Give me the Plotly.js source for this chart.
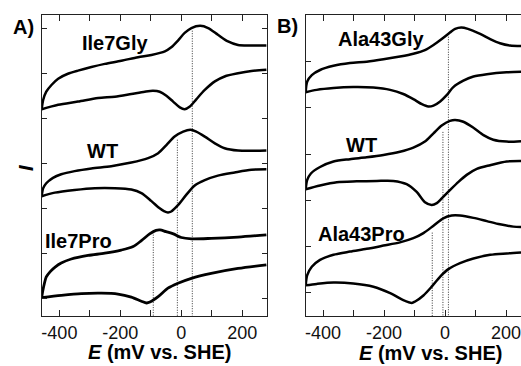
<!DOCTYPE html>
<html>
<head>
<meta charset="utf-8">
<script src="https://cdn.plot.ly/plotly-3.0.1.min.js"></script>
<style>html,body{margin:0;padding:0;background:#fff;}#chart{width:521px;height:366px;}</style>
</head>
<body>
<div id="chart"></div>
<script>
// ---------- Data (E in mV vs. SHE, current I in arbitrary units) ----------
// Panel A
const ile7Gly_fwd_E = [-458, -453, -443, -426, -404, -372, -339, -295, -251, -197, -142, -98, -54, -33, -11, 11, 33, 62, 88, 120, 153, 186, 230, 279];
const ile7Gly_fwd_I = [4.21, 4.42, 4.60, 4.75, 4.89, 5.00, 5.07, 5.15, 5.22, 5.29, 5.37, 5.42, 5.50, 5.59, 5.74, 5.91, 6.02, 6.07, 6.02, 5.87, 5.72, 5.64, 5.63, 5.63];
const ile7Gly_rev_E = [279, 230, 186, 142, 110, 77, 49, 28, 11, -5, -27, -49, -71, -93, -120, -164, -218, -273, -339, -404, -458];
const ile7Gly_rev_I = [5.09, 5.06, 5.01, 4.94, 4.83, 4.64, 4.43, 4.27, 4.21, 4.25, 4.38, 4.51, 4.60, 4.62, 4.60, 4.55, 4.49, 4.46, 4.38, 4.31, 4.21];

const wtA_fwd_E = [-458, -453, -443, -421, -394, -350, -295, -230, -164, -109, -76, -49, -22, 6, 30, 49, 77, 110, 142, 186, 279];
const wtA_fwd_I = [2.27, 2.45, 2.56, 2.68, 2.76, 2.83, 2.89, 2.94, 3.02, 3.12, 3.23, 3.41, 3.60, 3.71, 3.75, 3.71, 3.60, 3.45, 3.34, 3.29, 3.29];
const wtA_rev_E = [279, 230, 175, 120, 77, 44, 16, -11, -33, -44, -57, -71, -98, -131, -164, -218, -284, -350, -415, -458];
const wtA_rev_I = [2.87, 2.86, 2.80, 2.73, 2.63, 2.51, 2.30, 2.07, 1.93, 1.91, 1.94, 2.00, 2.16, 2.34, 2.42, 2.45, 2.45, 2.41, 2.35, 2.27];

const ile7Pro_fwd_E = [-458, -455, -449, -443, -430, -414, -394, -361, -306, -251, -197, -158, -131, -104, -83, -70, -50, -26, 0, 33, 98, 186, 279];
const ile7Pro_fwd_I = [0.01, 0.14, 0.33, 0.47, 0.59, 0.69, 0.78, 0.87, 0.95, 1.00, 1.07, 1.15, 1.28, 1.43, 1.51, 1.52, 1.48, 1.43, 1.35, 1.32, 1.33, 1.36, 1.41];
const ile7Pro_rev_E = [279, 186, 98, 33, -11, -44, -76, -103, -114, -131, -164, -208, -262, -328, -394, -458];
const ile7Pro_rev_I = [0.74, 0.66, 0.55, 0.44, 0.33, 0.22, 0.03, -0.09, -0.11, -0.07, 0.02, 0.09, 0.11, 0.10, 0.06, 0.01];

// Panel B
const ala43Gly_fwd_E = [-457, -452, -437, -410, -366, -312, -257, -202, -148, -104, -66, -38, -11, 16, 33, 53, 75, 115, 148, 180, 213, 249];
const ala43Gly_fwd_I = [4.34, 4.57, 4.71, 4.82, 4.91, 4.97, 5.00, 5.05, 5.11, 5.17, 5.25, 5.36, 5.49, 5.63, 5.71, 5.74, 5.71, 5.60, 5.49, 5.40, 5.35, 5.34];
const ala43Gly_rev_E = [249, 202, 137, 93, 60, 27, 6, -16, -38, -55, -76, -104, -137, -180, -235, -301, -366, -421, -457];
const ala43Gly_rev_I = [4.78, 4.77, 4.73, 4.68, 4.59, 4.45, 4.28, 4.14, 4.05, 4.03, 4.08, 4.19, 4.30, 4.39, 4.44, 4.45, 4.43, 4.39, 4.34];

const wtB_fwd_E = [-457, -452, -440, -410, -366, -312, -257, -202, -148, -104, -66, -38, -11, 16, 33, 60, 93, 126, 158, 202, 249];
const wtB_fwd_I = [2.24, 2.44, 2.58, 2.72, 2.84, 2.89, 2.93, 2.98, 3.05, 3.14, 3.27, 3.45, 3.62, 3.72, 3.74, 3.70, 3.57, 3.41, 3.31, 3.27, 3.28];
const wtB_rev_E = [249, 202, 148, 104, 71, 44, 16, -11, -27, -44, -66, -93, -126, -170, -224, -290, -355, -410, -457];
const wtB_rev_I = [2.85, 2.84, 2.76, 2.68, 2.55, 2.40, 2.22, 2.04, 1.94, 1.90, 1.96, 2.18, 2.35, 2.42, 2.42, 2.41, 2.39, 2.32, 2.24];

const ala43Pro_fwd_E = [-457, -452, -437, -410, -366, -312, -257, -202, -148, -104, -71, -38, -6, 22, 49, 93, 137, 180, 224, 249];
const ala43Pro_fwd_I = [0.16, 0.38, 0.56, 0.71, 0.82, 0.89, 0.95, 1.02, 1.09, 1.18, 1.29, 1.45, 1.61, 1.67, 1.67, 1.62, 1.55, 1.48, 1.43, 1.42];
const ala43Pro_rev_E = [249, 202, 148, 93, 49, 11, -16, -44, -71, -98, -109, -137, -180, -235, -301, -366, -421, -457];
const ala43Pro_rev_I = [0.87, 0.85, 0.82, 0.74, 0.64, 0.51, 0.35, 0.13, -0.06, -0.19, -0.22, -0.16, -0.01, 0.13, 0.20, 0.22, 0.19, 0.16];

// Dotted midpoint-potential markers (E in mV, I where the marker starts)
const midA_E = [36, -13, -92];
const midA_Itop = [5.96, 3.53, 1.47];
const midB_E = [11, -7, -42];
const midB_Itop = [5.54, 3.48, 1.30];

// Labels
const labelsA = ['Ile7Gly', 'WT', 'Ile7Pro'];
const labelsB = ['Ala43Gly', 'WT', 'Ala43Pro'];
const xTickVals = [-400, -300, -200, -100, 0, 100, 200];
const xTickText = ['-400', '', '-200', '', '0', '', '200'];

// ---------- Build ----------
const FONT = 'Liberation Sans, Arial, Helvetica, sans-serif';
const yRangeA = [-0.40, 6.31];
const yRangeB = [-0.504, 6.01];

function curve(x, y, xa, ya, w) {
  return {x: x, y: y, xaxis: xa, yaxis: ya, mode: 'lines', type: 'scatter',
          line: {color: '#000', width: w || 2.5, shape: 'spline', smoothing: 0.8},
          hoverinfo: 'skip'};
}
function dotted(e, top, xa, ya, bottom) {
  return {x: [e, e], y: [top, bottom], xaxis: xa, yaxis: ya, mode: 'lines', type: 'scatter',
          line: {color: '#333', width: 1, dash: '1px,1.5px'}, hoverinfo: 'skip'};
}

const traces = [];
midA_E.forEach((e, i) => traces.push(dotted(e, midA_Itop[i], 'x', 'y', yRangeA[0])));
midB_E.forEach((e, i) => traces.push(dotted(e, midB_Itop[i], 'x2', 'y2', yRangeB[0])));
traces.push(curve(ile7Gly_fwd_E, ile7Gly_fwd_I, 'x', 'y'));
traces.push(curve(ile7Gly_rev_E, ile7Gly_rev_I, 'x', 'y'));
traces.push(curve(wtA_fwd_E, wtA_fwd_I, 'x', 'y'));
traces.push(curve(wtA_rev_E, wtA_rev_I, 'x', 'y'));
traces.push(curve(ile7Pro_fwd_E, ile7Pro_fwd_I, 'x', 'y', 2.8));
traces.push(curve(ile7Pro_rev_E, ile7Pro_rev_I, 'x', 'y', 2.8));
traces.push(curve(ala43Gly_fwd_E, ala43Gly_fwd_I, 'x2', 'y2'));
traces.push(curve(ala43Gly_rev_E, ala43Gly_rev_I, 'x2', 'y2'));
traces.push(curve(wtB_fwd_E, wtB_fwd_I, 'x2', 'y2'));
traces.push(curve(wtB_rev_E, wtB_rev_I, 'x2', 'y2'));
traces.push(curve(ala43Pro_fwd_E, ala43Pro_fwd_I, 'x2', 'y2'));
traces.push(curve(ala43Pro_rev_E, ala43Pro_rev_I, 'x2', 'y2'));

const W = 521, H = 366;
function ann(text, px, py, size, extra) {
  return Object.assign({text: text, xref: 'paper', yref: 'paper', x: px / W, y: 1 - py / H,
    xanchor: 'center', yanchor: 'middle', showarrow: false,
    font: {family: FONT, size: size, color: '#000'}}, extra || {});
}

const axisCommon = {
  showline: true, linecolor: '#222', linewidth: 1, mirror: 'ticks',
  ticks: 'inside', tickcolor: '#222', tickwidth: 1,
  showgrid: false, zeroline: false, fixedrange: true
};
const xCommon = Object.assign({}, axisCommon, {
  tickmode: 'array', tickvals: xTickVals, ticktext: xTickText, ticklen: 6,
  ticklabeloverflow: 'allow',
  tickfont: {family: FONT, size: 18, color: '#111'}
});
const yCommon = Object.assign({}, axisCommon, {
  ticklen: 5, showticklabels: false, tickmode: 'array', tickvals: [0, 1, 2, 3, 4, 5, 6]
});

const layout = {
  width: W, height: H,
  margin: {l: 0, r: 0, t: 0, b: 0},
  paper_bgcolor: '#fff', plot_bgcolor: '#fff',
  showlegend: false,
  xaxis: Object.assign({}, xCommon, {domain: [41.7 / W, 267 / W], range: [-458, 281], anchor: 'y'}),
  yaxis: Object.assign({}, yCommon, {domain: [50 / H, 351 / H], range: yRangeA, anchor: 'x'}),
  xaxis2: Object.assign({}, xCommon, {domain: [305.7 / W, 1], range: [-457, 249], anchor: 'y2'}),
  yaxis2: Object.assign({}, yCommon, {domain: [50 / H, 351 / H], range: yRangeB, anchor: 'x2',
                                       mirror: false, tickvals: [0, 1, 2, 3, 4, 5]}),
  annotations: [
    ann('<b>A)</b>', 23, 26.5, 20),
    ann('<b>B)</b>', 287.5, 26, 20),
    ann('<b>' + labelsA[0] + '</b>', 114.5, 42.7, 20),
    ann('<b>' + labelsA[1] + '</b>', 102, 151, 20),
    ann('<b>' + labelsA[2] + '</b>', 78.5, 240.5, 20),
    ann('<b>' + labelsB[0] + '</b>', 380.5, 39, 20),
    ann('<b>' + labelsB[1] + '</b>', 361.5, 145.5, 20),
    ann('<b>' + labelsB[2] + '</b>', 361, 233.5, 20),
    ann('<b><i>E</i> (mV vs. SHE)</b>', 159, 352, 20),
    ann('<b><i>E</i> (mV vs. SHE)</b>', 430, 352.5, 20),
    ann('<b><i>I</i></b>', 25.5, 168.5, 20, {textangle: -90})
  ]
};

Plotly.newPlot('chart', traces, layout, {staticPlot: true, displayModeBar: false});
</script>
</body>
</html>
